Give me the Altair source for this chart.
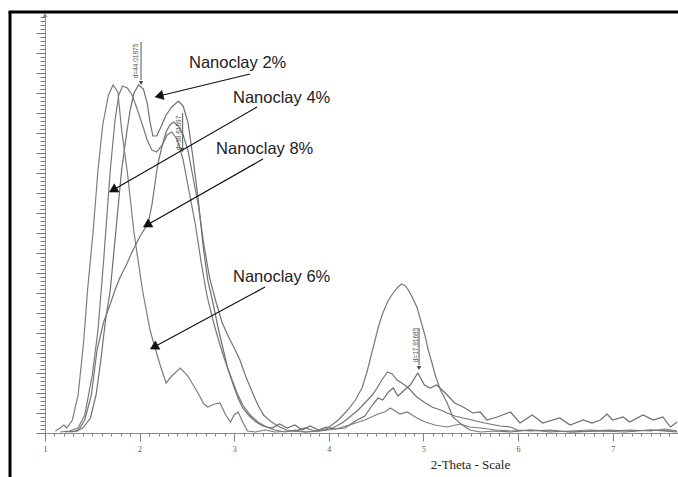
import altair as alt
import pandas as pd

theta_2 = [1.21,1.32,1.40,1.48,1.54,1.59,1.64,1.69,1.73,1.77,1.81,1.86,1.90,1.94,1.99,2.04,2.08,2.11,2.14,2.18,2.23,2.28,2.34,2.41,2.46,2.51,2.56,2.62,2.67,2.72,2.78,2.83,2.88,2.93,2.99,3.04,3.09,3.16,3.23,3.30,3.40,3.48,3.56,3.64,3.72,3.80,3.89,3.97,4.07,4.17,4.28,4.38,4.46,4.52,4.57,4.63,4.68,4.73,4.80,4.86,4.94,5.01,5.07,5.14,5.23,5.33,5.42,5.52,5.60,5.67,5.78,5.92,6.02,6.15,6.26,6.44,6.55,6.69,6.78,6.87,6.94,7.00,7.11,7.18,7.32,7.43,7.53,7.61,7.68]
counts_2 = [1,2,5,15,38,73,113,143,183,223,263,298,323,340,348,344,330,311,297,297,307,318,326,332,327,311,278,233,188,153,128,105,85,65,48,35,25,17,11,7,5,9,5,8,3,7,3,6,4,5,12,17,28,35,33,41,45,37,43,48,60,48,45,48,40,30,26,20,21,13,16,21,10,18,10,15,8,13,10,13,19,13,16,11,18,13,16,6,11]

theta_4 = [1.16,1.26,1.35,1.42,1.50,1.56,1.62,1.69,1.74,1.78,1.82,1.87,1.92,1.97,2.03,2.08,2.13,2.18,2.24,2.29,2.34,2.40,2.46,2.52,2.59,2.65,2.71,2.78,2.84,2.90,2.97,3.03,3.09,3.17,3.25,3.34,3.43,3.54,3.64,3.75,3.89,3.99,4.10,4.19,4.28,4.35,4.40,4.47,4.52,4.57,4.63,4.68,4.73,4.77,4.81,4.84,4.88,4.93,4.97,5.02,5.05,5.09,5.13,5.18,5.25,5.31,5.41,5.49,5.60,5.76,5.92,6.13,6.34,6.60,6.87,7.13,7.40,7.68]
counts_4 = [1,2,5,18,58,103,173,263,313,338,347,345,338,325,308,293,283,281,288,298,301,293,273,243,208,171,138,111,91,73,55,40,28,18,11,6,3,1,3,1,2,5,13,22,33,45,60,86,105,120,133,140,146,149,147,143,136,126,113,96,83,70,56,43,30,16,8,3,1,2,1,3,2,1,2,1,3,2]

theta_6 = [1.11,1.16,1.20,1.23,1.29,1.35,1.41,1.45,1.51,1.56,1.61,1.67,1.72,1.77,1.81,1.87,1.94,2.03,2.11,2.16,2.22,2.28,2.34,2.43,2.51,2.61,2.68,2.72,2.79,2.85,2.91,2.96,3.00,3.04,3.09,3.14,3.22,3.33,3.43,3.59,3.75,3.91,4.07,4.22,4.38,4.52,4.59,4.65,4.70,4.75,4.83,4.88,4.93,5.02,5.12,5.25,5.39,5.49,5.60,5.76,5.92,6.13,6.34,6.55,6.76,6.97,7.18,7.40,7.55,7.68]
counts_6 = [2,5,8,5,13,38,93,143,203,263,308,338,348,341,303,261,201,143,103,86,67,50,57,65,57,41,29,26,29,30,18,11,18,21,11,2,1,3,1,2,1,2,4,8,13,19,21,25,22,19,21,18,15,11,8,6,9,6,5,3,2,3,1,2,3,2,3,2,4,2]

theta_8 = [1.26,1.35,1.42,1.49,1.55,1.62,1.69,1.74,1.79,1.86,1.92,2.00,2.09,2.13,2.16,2.19,2.24,2.28,2.32,2.36,2.41,2.46,2.51,2.56,2.62,2.68,2.74,2.81,2.87,2.93,3.00,3.06,3.12,3.19,3.25,3.31,3.38,3.46,3.55,3.64,3.75,3.85,3.96,4.04,4.14,4.22,4.31,4.38,4.46,4.51,4.56,4.62,4.67,4.72,4.77,4.83,4.88,4.93,5.02,5.09,5.18,5.25,5.33,5.42,5.51,5.60,5.70,5.81,5.92,5.99,6.13,6.34,6.55,6.76,6.97,7.18,7.40,7.68]
counts_8 = [1,2,13,38,83,111,129,143,155,168,181,196,210,228,248,268,288,301,308,311,307,298,283,258,228,188,155,130,111,98,85,73,57,41,28,18,12,7,3,2,5,2,3,5,10,16,23,30,38,45,53,61,59,53,50,46,41,36,30,26,23,20,17,15,13,11,9,7,6,3,2,3,1,2,3,2,3,1]

samples = ["Nanoclay 2%", "Nanoclay 4%", "Nanoclay 6%", "Nanoclay 8%"]
line_greys = ["#6f6f6f", "#787878", "#7d7d7d", "#747474"]

# annotation labels (text anchor = left end, baseline)
label_text = ["Nanoclay 2%", "Nanoclay 4%", "Nanoclay 8%", "Nanoclay 6%"]
label_theta = [2.522, 2.987, 2.808, 2.987]
label_counts = [365, 330, 279, 151]

# annotation arrows: tail -> tip, head angle (deg, clockwise from up)
arrow_tail_theta = [3.167, 3.241, 3.304, 3.326]
arrow_tail_counts = [359, 326, 274, 146]
arrow_tip_theta = [2.205, 1.719, 2.078, 2.152]
arrow_tip_counts = [337, 243, 208, 86]
arrow_angle = [256, 240, 240, 242]

# peak d-spacing markers
peak_text = ["d=44.01875", "d=38.61597", "d=17.91685"]
peak_text_theta = [1.962, 2.417, 4.922]
peak_text_counts = [372, 300, 88]
peak_line_theta = [2.015, 2.455, 4.953]
peak_line_top = [391, 320, 105]
peak_line_bottom = [353, 285, 68]
peak_head_counts = [350, 283, 65]

x_ticks = [round(1 + 0.1 * i, 1) for i in range(67)]
y_ticks = list(range(0, 419, 4))

# ---- build tables ----
rows = []
for name, xs, ys in [("Nanoclay 2%", theta_2, counts_2), ("Nanoclay 4%", theta_4, counts_4),
                     ("Nanoclay 6%", theta_6, counts_6), ("Nanoclay 8%", theta_8, counts_8)]:
    for i, (a, b) in enumerate(zip(xs, ys)):
        rows.append({"sample": name, "i": i, "theta": a, "counts": b})
df = pd.DataFrame(rows)

labels_df = pd.DataFrame({"text": label_text, "theta": label_theta, "counts": label_counts})
arrows_df = pd.DataFrame({"theta": arrow_tail_theta, "counts": arrow_tail_counts,
                          "theta2": arrow_tip_theta, "counts2": arrow_tip_counts})
heads_df = pd.DataFrame({"theta": arrow_tip_theta, "counts": arrow_tip_counts, "ang": arrow_angle})
ptext_df = pd.DataFrame({"text": peak_text, "theta": peak_text_theta, "counts": peak_text_counts})
pline_df = pd.DataFrame({"theta": peak_line_theta, "counts": peak_line_top,
                         "theta2": peak_line_theta, "counts2": peak_line_bottom})
phead_df = pd.DataFrame({"theta": peak_line_theta, "counts": peak_head_counts})
yarrow_df = pd.DataFrame({"theta": [1.0], "counts": [418]})
one = pd.DataFrame({"a": [0]})

is_int = "abs(datum.value - round(datum.value)) < 0.001"
xscale = alt.Scale(domain=[1, 7.69], nice=False, zero=False)
yscale = alt.Scale(domain=[0, 418], nice=False, zero=False)
xaxis = alt.Axis(values=x_ticks, labelExpr=f"{is_int} ? format(datum.value, 'd') : ''",
                 tickSize={"condition": {"test": is_int, "value": 8}, "value": 3},
                 tickColor="#808080", domainColor="#8a8a8a", grid=False,
                 labelFont="Liberation Serif", labelFontSize=8, labelColor="#555555",
                 labelPadding=4, labelOverlap=False, labelFlush=False,
                 title="2-Theta - Scale", titleFont="Liberation Serif", titleFontSize=13,
                 titleFontWeight="normal", titleColor="#222222", titleX=425, titleY=25,
                 titleAlign="center", titleBaseline="top")
yaxis = alt.Axis(values=y_ticks, labels=False, title=None, grid=False,
                 tickSize={"condition": {"test": "datum.value % 20 === 0", "value": 9}, "value": 5},
                 tickColor="#777777", domainColor="#8a8a8a")

X = alt.X("theta:Q", scale=xscale, axis=xaxis)
Y = alt.Y("counts:Q", scale=yscale, axis=yaxis)

lines = alt.Chart(df).mark_line(strokeWidth=1.2).encode(
    x=X, y=Y,
    color=alt.Color("sample:N", scale=alt.Scale(domain=samples, range=line_greys), legend=None),
    order="i:Q",
)

labels = alt.Chart(labels_df).mark_text(align="left", baseline="alphabetic", font="Liberation Sans",
                                        fontSize=16.5, color="#222222").encode(x=X, y=Y, text="text:N")
shafts = alt.Chart(arrows_df).mark_rule(color="#111111", strokeWidth=1.2).encode(
    x=X, y=Y, x2="theta2:Q", y2="counts2:Q")
heads = alt.Chart(heads_df).mark_point(shape="triangle-up", filled=True, size=90, fill="#111111",
                                       stroke="#111111", strokeWidth=0.5, opacity=1, fillOpacity=1).encode(
    x=X, y=Y, angle=alt.Angle("ang:Q", scale=None))

ptext = alt.Chart(ptext_df).mark_text(angle=270, font="Liberation Sans", fontSize=6.5,
                                      color="#555555").encode(x=X, y=Y, text="text:N")
plines = alt.Chart(pline_df).mark_rule(color="#555555", strokeWidth=1).encode(
    x=X, y=Y, x2="theta2:Q", y2="counts2:Q")
pheads = alt.Chart(phead_df).mark_point(shape="triangle-down", filled=True, size=20, fill="#444444",
                                        opacity=1, fillOpacity=1).encode(x=X, y=Y)
yarrow = alt.Chart(yarrow_df).mark_point(shape="triangle-up", filled=True, size=22, fill="#8a8a8a",
                                         opacity=1, fillOpacity=1).encode(x=X, y=Y)

frame_left = alt.Chart(one).mark_rule(color="black", strokeWidth=3).encode(
    x=alt.value(-35), y=alt.value(-3), y2=alt.value(470))
frame_top = alt.Chart(one).mark_rule(color="black", strokeWidth=3).encode(
    x=alt.value(-36.5), x2=alt.value(640), y=alt.value(-3))

chart = alt.layer(lines, shafts, heads, labels, plines, pheads, ptext, yarrow, frame_left, frame_top).properties(
    width=633, height=418,
    autosize=alt.AutoSizeParams(type="none"),
    padding={"left": 45, "top": 15, "right": 0, "bottom": 44},
    background="white",
).configure_view(stroke=None)

chart.save("out.html", embed_options={"renderer": "svg", "actions": False})
